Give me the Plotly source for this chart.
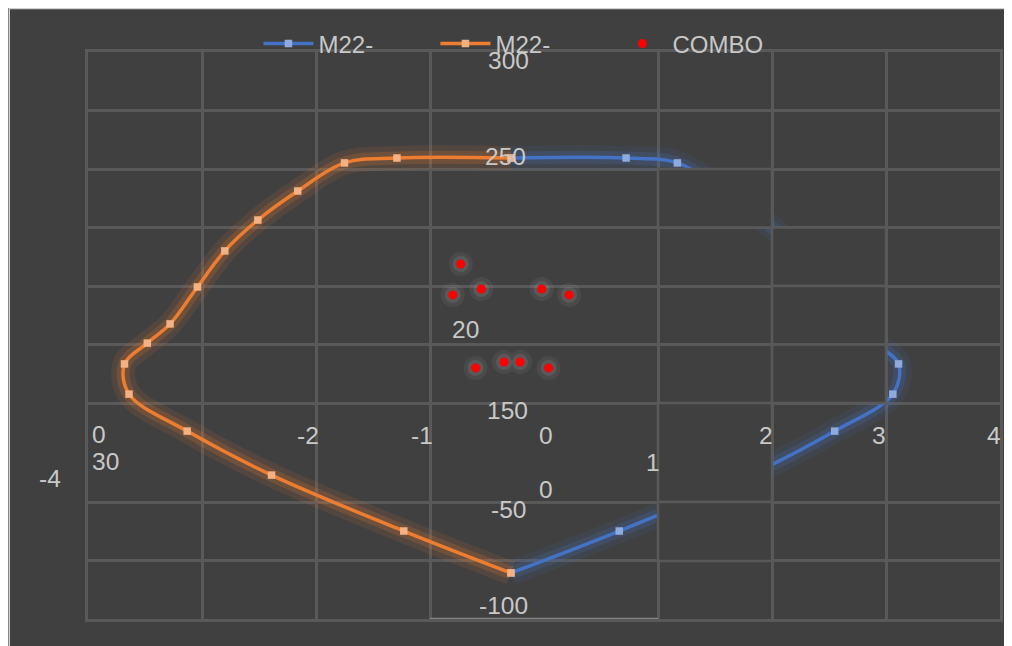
"""Closed loop of two M22- series with COMBO points (dark Excel-style chart)."""

import plotly.graph_objects as go

# ---- data ----
# M22- (blue): right half of the loop, bottom point to top point
blue_x = [-0.29, 0.66, 1.81, 2.55, 3.06, 3.11, 2.90, 2.70, 2.45, 2.22, 1.92, 1.58, 1.17, 0.72, -0.29]
blue_y = [77.4, 95.3, 119.2, 138.0, 153.8, 166.7, 175.6, 183.8, 199.6, 215.0, 228.2, 240.6, 252.6, 254.7, 254.7]

# M22- (orange): left half of the loop, bottom point to top point
orange_x = [-0.29, -1.23, -2.39, -3.13, -3.64, -3.68, -3.48, -3.28, -3.04, -2.80, -2.51, -2.16, -1.75, -1.29, -0.29]
orange_y = [77.4, 95.3, 119.2, 138.0, 153.8, 166.7, 175.6, 183.8, 199.6, 215.0, 228.2, 240.6, 252.6, 254.7, 254.7]

# COMBO points
combo_x = [-0.73, -0.80, -0.55, -0.02, 0.22, -0.60, -0.35, -0.21, 0.04]
combo_y = [209.4, 196.2, 198.7, 198.7, 196.2, 165.0, 167.5, 167.5, 165.0]

series_names = ["M22-", "M22-", "COMBO"]

# the garbled axis labels, as they appear on the chart
tick_labels = ["300", "250", "20", "150", "-50", "0", "-100",
               "0", "30", "-4", "-2", "-1", "0", "1", "2", "3", "4"]

x_grid = [-3, -2, -1, 1, 2, 3]
y_grid = [275, 250, 225, 200, 175, 150, 107.7, 82.5]
Y_MIN, Y_MAX = 57.7, 300

# ---- style ----
BG = "#404040"
GRID = "#595959"
TEXT = "#c8c8c8"
BLUE = "#4472C4"
ORANGE = "#ED7D31"
FONT = "Liberation Sans, Arial, sans-serif"

# page (screenshot) geometry; the page body adds an 8px offset
OFF = 8
PAGE_W, PAGE_H = 1012, 646
PL, PT, PR, PB = 88, 52, 1003, 619
W, H = PAGE_W - OFF, PAGE_H - OFF
PW, PH = PR - PL, PB - PT


def px(xp):
    return (xp - PL) / PW


def py(yp):
    return (PB - yp) / PH


fig = go.Figure()


def add_loop_half(x, y, color, marker_color, name):
    # soft glow under the line
    for width, alpha in ((24, 0.10), (13, 0.18)):
        fig.add_trace(go.Scatter(
            x=x, y=y, mode="lines",
            line=dict(color=color, width=width, shape="spline", smoothing=1),
            opacity=alpha, hoverinfo="skip", showlegend=False,
        ))
    fig.add_trace(go.Scatter(
        x=x, y=y, mode="lines+markers", name=name,
        line=dict(color=color, width=3.5, shape="spline", smoothing=1),
        marker=dict(symbol="square", size=7.5, color=marker_color),
    ))


add_loop_half(blue_x, blue_y, BLUE, "#8FAADC", series_names[0])
add_loop_half(orange_x, orange_y, ORANGE, "#F4B183", series_names[1])

for size, alpha in ((24, 0.10), (16, 0.18)):
    fig.add_trace(go.Scatter(
        x=combo_x, y=combo_y, mode="markers",
        marker=dict(size=size, color="#a0a0a0"),
        opacity=alpha, hoverinfo="skip", showlegend=False,
    ))
fig.add_trace(go.Scatter(
    x=combo_x, y=combo_y, mode="markers", name=series_names[2],
    marker=dict(size=9, color="#FF0000"),
))

# outer chart border
shapes = [dict(
    type="rect", xref="paper", yref="paper", layer="below",
    x0=px(OFF + 1), x1=px(PAGE_W - 1), y0=py(PAGE_H + 20), y1=py(OFF + 0.5),
    fillcolor=BG, line=dict(color="#d0d0d0", width=1.5),
)]
# cells where the blue curve does not show in the original
hidden_cells = [(1, 2, 225, 250), (2, 3, 200, 225), (2, 3, 175, 200),
                (2, 3, 150, 175), (1, 2, 107.7, 150), (1, 2, 82.5, 107.7)]
for x0, x1, y0, y1 in hidden_cells:
    shapes.append(dict(
        type="rect", xref="x", yref="y", layer="above",
        x0=x0, x1=x1, y0=y0, y1=y1,
        fillcolor=BG, line=dict(color=GRID, width=2.5),
    ))
# lighter axis segment at the bottom
shapes.append(dict(
    type="line", xref="x", yref="y", x0=-1, x1=1, y0=Y_MIN, y1=Y_MIN,
    line=dict(color="#858585", width=2.5),
))

label_pos = [(510, 60), (507, 156), (467, 329), (509, 410), (510, 509),
             (547.5, 489), (504.5, 605),
             (99, 434), (105.5, 461), (49.5, 478), (308.5, 435), (423, 435),
             (547.5, 435), (655, 462), (768.5, 435), (882, 435), (996.5, 435)]
annotations = [
    dict(text=t, x=px(xp), y=py(yp), xref="paper", yref="paper",
         xanchor="center", yanchor="middle", showarrow=False,
         font=dict(size=24.5, color=TEXT, family=FONT))
    for t, (xp, yp) in zip(tick_labels, label_pos)
]

fig.update_layout(
    width=W, height=H,
    margin=dict(l=PL - OFF, r=PAGE_W - PR, t=PT - OFF, b=PAGE_H - PB),
    paper_bgcolor=BG,
    plot_bgcolor=BG,
    font=dict(family=FONT, color=TEXT),
    shapes=shapes,
    annotations=annotations,
    legend=dict(
        orientation="h", x=px(259), y=py(44), xanchor="left", yanchor="middle",
        font=dict(size=24, color=TEXT, family=FONT),
        bgcolor="rgba(0,0,0,0)", itemwidth=50,
        entrywidth=112, entrywidthmode="pixels",
    ),
    xaxis=dict(
        range=[-4, 4], tickvals=x_grid, showticklabels=False, ticks="",
        showgrid=True, gridcolor=GRID, gridwidth=2.5, zeroline=False,
        showline=True, mirror=True, linecolor=GRID, linewidth=2.5,
    ),
    yaxis=dict(
        range=[Y_MIN, Y_MAX], tickvals=y_grid, showticklabels=False, ticks="",
        showgrid=True, gridcolor=GRID, gridwidth=2.5, zeroline=False,
        showline=True, mirror=True, linecolor=GRID, linewidth=2.5,
    ),
)

fig.write_html("out.html")
